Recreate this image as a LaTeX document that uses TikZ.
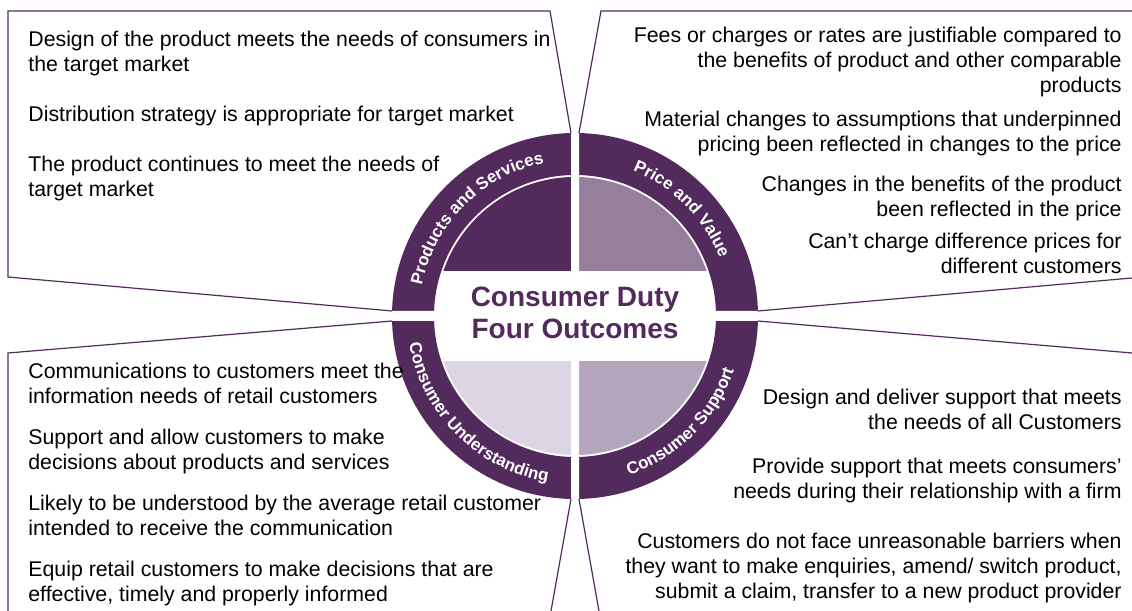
\documentclass[tikz,border=0pt]{standalone}
\usepackage{fontspec}
\setmainfont{Liberation Sans}
\usetikzlibrary{decorations.text}
\definecolor{dutyP}{RGB}{82,42,92}
\definecolor{dutyM}{RGB}{150,127,157}
\definecolor{dutyL}{RGB}{180,166,188}
\definecolor{dutyXL}{RGB}{221,213,227}
\begin{document}
\begin{tikzpicture}[x=0.5pt,y=0.5pt,
  txt/.style={font=\fontsize{10.65}{12.35}\selectfont,inner sep=0pt,align=left,anchor=north west},
  txtR/.style={txt,align=right,anchor=north east},
  frame/.style={dutyP,line width=0.6pt},
  ringlbl/.style={decorate,decoration={text along path,text align=center,text color=white,
    text={|\fontsize{8.5}{10}\selectfont\bfseries|#1}}}]
\useasboundingbox (0,0) rectangle (1132,611);
\begin{scope}[shift={(575,295)}]
\fill[dutyP,even odd rule] (0,0) circle (183) (0,0) circle (141);
\fill[dutyP] (0,0) -- (90:139) arc (90:180:139) -- cycle; \fill[dutyM] (0,0) -- (0:139) arc (0:90:139) -- cycle;
\fill[dutyXL] (0,0) -- (180:139) arc (180:270:139) -- cycle; \fill[dutyL] (0,0) -- (270:139) arc (270:360:139) -- cycle;
\fill[white] (-4,-190) rectangle (4,190) (-190,-5) rectangle (190,5);
\begin{scope} \clip (0,0) circle (140); \fill[white] (-140,-45) rectangle (140,45); \end{scope}
\path[ringlbl=Products and Services] (175:156) arc (175:95:156);
\path[ringlbl=Price and Value] (85:156) arc (85:5:156);
\path[ringlbl=Consumer Understanding] (185:168) arc (185:265:168);
\path[ringlbl=Consumer Support] (275:168) arc (275:355:168);
\node[font=\fontsize{14}{15.8}\selectfont\bfseries,text=dutyP,align=center] (title) at (0,3) {Consumer Duty\\Four Outcomes};
\coordinate (psTop) at (91.25:183); \coordinate (psLeft) at (178.43:183);
\coordinate (pvTop) at (88.75:183); \coordinate (pvRight) at (1.57:183);
\coordinate (cuLeft) at (181.57:183); \coordinate (cuBot) at (268.75:183);
\coordinate (csRight) at (358.43:183); \coordinate (csBot) at (271.25:183);
\end{scope}
\draw[frame] (psTop) -- (550,600) -- (8,600) -- (8,334) -- (psLeft);
\draw[frame] (pvTop) -- (601,600) -- (1132,600); \draw[frame] (pvRight) -- (1132,333);
\draw[frame] (cuLeft) -- (8,258) -- (8,0); \draw[frame] (cuBot) -- (551,0);
\draw[frame] (csRight) -- (1132,258); \draw[frame] (csBot) -- (599,0);
\node[txt] (ps1) at (28,580) {Design of the product meets the needs of consumers in\\the target market};
\node[txt] (ps2) at (28,505) {Distribution strategy is appropriate for target market};
\node[txt] (ps3) at (28,455) {The product continues to meet the needs of\\target market};
\node[txtR] (pv1) at (1122,584) {Fees or charges or rates are justifiable compared to\\the benefits of product and other comparable\\products};
\node[txtR] (pv2) at (1122,500) {Material changes to assumptions that underpinned\\pricing been reflected in changes to the price};
\node[txtR] (pv3) at (1122,435) {Changes in the benefits of the product\\been reflected in the price};
\node[txtR] (pv4) at (1122,378) {Can’t charge difference prices for\\different customers};
\node[txt] (cu1) at (28,248) {Communications to customers meet the\\information needs of retail customers};
\node[txt] (cu2) at (28,182.5) {Support and allow customers to make\\decisions about products and services};
\node[txt] (cu3) at (28,116) {Likely to be understood by the average retail customer\\intended to receive the communication};
\node[txt] (cu4) at (28,50) {Equip retail customers to make decisions that are\\effective, timely and properly informed};
\node[txtR] (cs1) at (1122,222.5) {Design and deliver support that meets\\the needs of all Customers};
\node[txtR] (cs2) at (1122,153) {Provide support that meets consumers’\\needs during their relationship with a firm};
\node[txtR] (cs3) at (1122,78) {Customers do not face unreasonable barriers when\\they want to make enquiries, amend/ switch product,\\submit a claim, transfer to a new product provider};
\end{tikzpicture}
\end{document}
